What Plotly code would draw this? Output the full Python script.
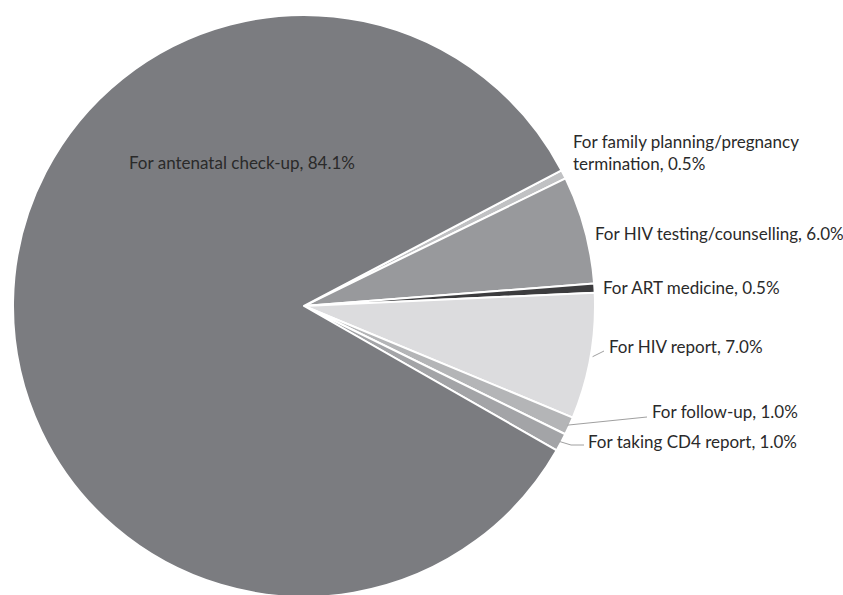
import math
import plotly.graph_objects as go

labels = ["For family planning/pregnancy termination", "For HIV testing/counselling",
          "For ART medicine", "For HIV report", "For follow-up",
          "For taking CD4 report", "For antenatal check-up"]
values = [0.5, 6.0, 0.5, 7.0, 1.0, 1.0, 84.1]
colors = ["#c0c1c3", "#98999c", "#3c3c3e", "#dcdcde", "#b4b5b7", "#a3a4a7", "#7b7c80"]

W, H = 843, 598
CX, CY, R = 304, 306, 291
ROT = 62.2
FONT = "Lato"
TXT = "#2a2a2a"
FS = 17


def px(x, y):
    return x / W, 1 - y / H


fig = go.Figure(go.Pie(
    labels=labels, values=values, sort=False, direction="clockwise", rotation=ROT,
    marker=dict(colors=colors, line=dict(color="white", width=2)),
    textinfo="none", hoverinfo="label+percent", showlegend=False,
    domain=dict(x=[(CX - R) / W, (CX + R) / W],
                y=[max(0.0, 1 - (CY + R) / H), min(1.0, 1 - (CY - R) / H)]),
))

# mid angles (degrees, counter-clockwise from 3 o'clock)
total = sum(values)
start = 90 - ROT
mids = []
for v in values:
    span = v / total * 360
    mids.append(start - span / 2)
    start -= span


def edge(i, rr=R):
    a = math.radians(mids[i])
    return CX + rr * math.cos(a), CY - rr * math.sin(a)


def fmt(i):
    return f"{values[i]:.1f}%"


annotations = []
shapes = []


def add_label(text, x, y):
    ax, ay = px(x, y)
    annotations.append(dict(text=text, x=ax, y=ay, xref="paper", yref="paper",
                            xanchor="left", yanchor="middle", align="left", showarrow=False,
                            font=dict(family=FONT, size=FS, color=TXT)))


def add_line(pts):
    path = ""
    for k, (x, y) in enumerate(pts):
        a, b = px(x, y)
        path += ("M" if k == 0 else "L") + f"{a},{b} "
    shapes.append(dict(type="path", path=path, xref="paper", yref="paper",
                       line=dict(color="#a0a0a0", width=1)))


add_label("For family planning/pregnancy<br>termination, " + fmt(0), 571, 153)
add_label("For HIV testing/counselling, " + fmt(1), 593, 234)
add_label("For ART medicine, " + fmt(2), 601, 287)
add_label("For HIV report, " + fmt(3), 607, 347)
add_label("For follow-up, " + fmt(4), 650, 411)
add_label("For taking CD4 report, " + fmt(5), 586, 442)
add_label("For antenatal check-up, " + fmt(6), 127, 163)

x0, y0 = edge(3, R + 2)
add_line([(x0, y0), (604, 351)])
x0, y0 = edge(4, R - 2)
add_line([(x0, y0), (647, 417)])
x0, y0 = edge(5, R - 2)
add_line([(x0, y0), (571, 445), (584, 445)])

fig.update_layout(width=W, height=H, margin=dict(l=0, r=0, t=0, b=0),
                  paper_bgcolor="white", plot_bgcolor="white",
                  annotations=annotations, shapes=shapes,
                  font=dict(family=FONT))
fig.write_html("out.html", config={"displayModeBar": False},
               post_script="document.body.style.margin='0';document.body.style.overflow='hidden';")
